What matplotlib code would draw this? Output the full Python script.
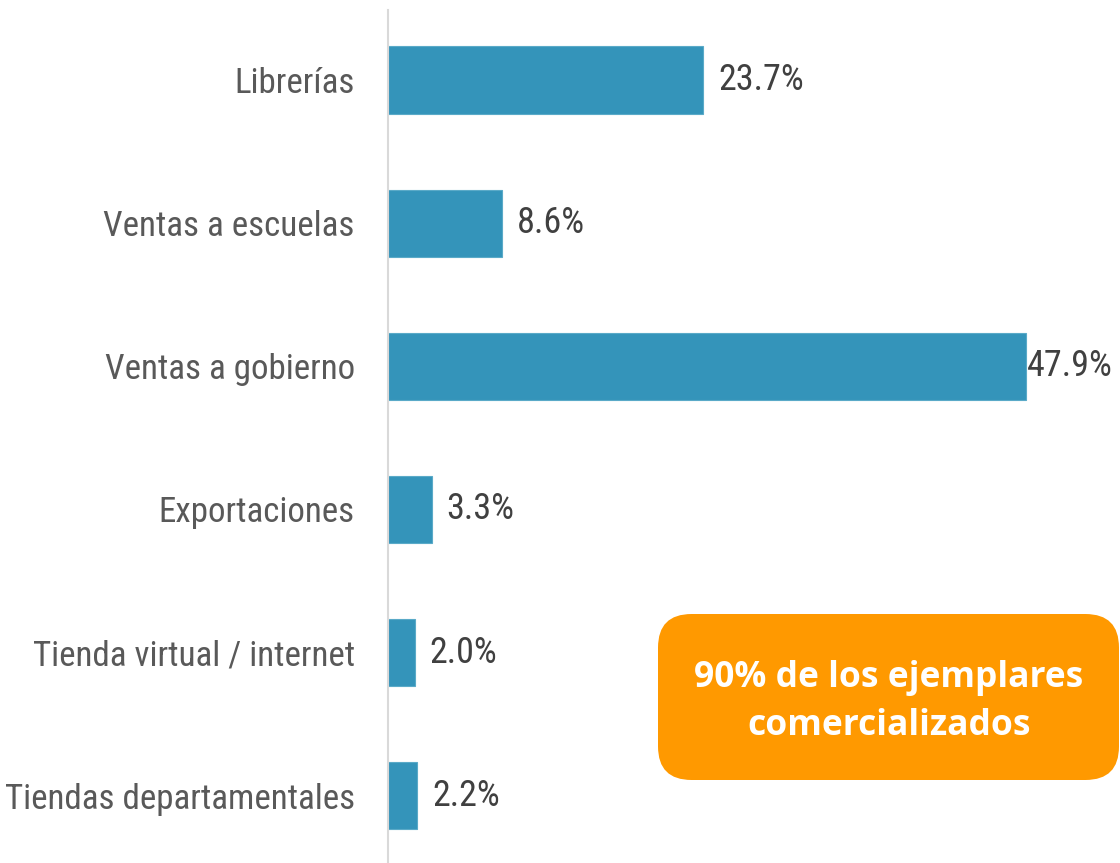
import matplotlib
matplotlib.use("Agg")
import matplotlib.pyplot as plt
from matplotlib.patches import FancyBboxPatch
from matplotlib import font_manager

categories = ["Librerías", "Ventas a escuelas", "Ventas a gobierno", "Exportaciones",
              "Tienda virtual / internet", "Tiendas departamentales"]
values = [23.7, 8.6, 47.9, 3.3, 2.0, 2.2]
callout_text = "90% de los ejemplares\ncomercializados"

# pick a condensed, upright, regular font if available
fprop = None
label_size = 22
for name, size in (("Liberation Sans Narrow", 26), ("Arial Narrow", 26), ("Roboto Condensed", 25.2)):
    for f in font_manager.fontManager.ttflist:
        if (f.name == name and f.style == "normal" and f.weight in (400, "normal", "regular")
                and "italic" not in f.fname.lower()):
            fprop = font_manager.FontProperties(fname=f.fname)
            label_size = size
            break
    if fprop is not None:
        break
if fprop is None:
    fprop = font_manager.FontProperties(family="Liberation Sans")
    label_size = 22

W, H = 1120, 863
fig = plt.figure(figsize=(W / 100, H / 100), dpi=100)
ax = fig.add_axes([388 / W, 0 / H, (W - 388) / W, 853 / H])

y = list(range(len(categories)))
ax.barh(y, values, height=0.47, color="#3494BA", edgecolor="#5AAAC8", linewidth=0.8)
ax.set_xlim(0, 55.0)
ax.set_ylim(5.47, -0.49)

for yi, v in zip(y, values):
    p = fprop.copy()
    p.set_size(label_size + 0.8)
    ax.text(v + 0.1 if v > 40 else v + 1.1, yi, f"{v:.1f}%", va="center", ha="left",
            fontproperties=p, color="#404040")

ax.set_yticks(y)
ax.set_yticklabels(categories, color="#595959")
for t in ax.get_yticklabels():
    p = fprop.copy()
    p.set_size(label_size)
    t.set_fontproperties(p)
ax.tick_params(axis="y", length=0, pad=24)
ax.set_xticks([])
for s in ["top", "right", "bottom"]:
    ax.spines[s].set_visible(False)
ax.spines["left"].set_color("#D9D9D9")
ax.spines["left"].set_linewidth(1.5)

box = FancyBboxPatch((658 / W, (863 - 780) / H), 461 / W, 166 / H,
                     boxstyle="round,pad=0,rounding_size=0.03",
                     transform=fig.transFigure, facecolor="#FF9900", edgecolor="none",
                     mutation_aspect=W / H)
fig.patches.append(box)
fig.text((658 + 1120) / 2 / W, (863 - 702) / H, callout_text, ha="center", va="center",
         fontsize=25.5, fontweight="bold", color="white", family="Open Sans", linespacing=1.45)

fig.savefig("out.png", dpi=100)
